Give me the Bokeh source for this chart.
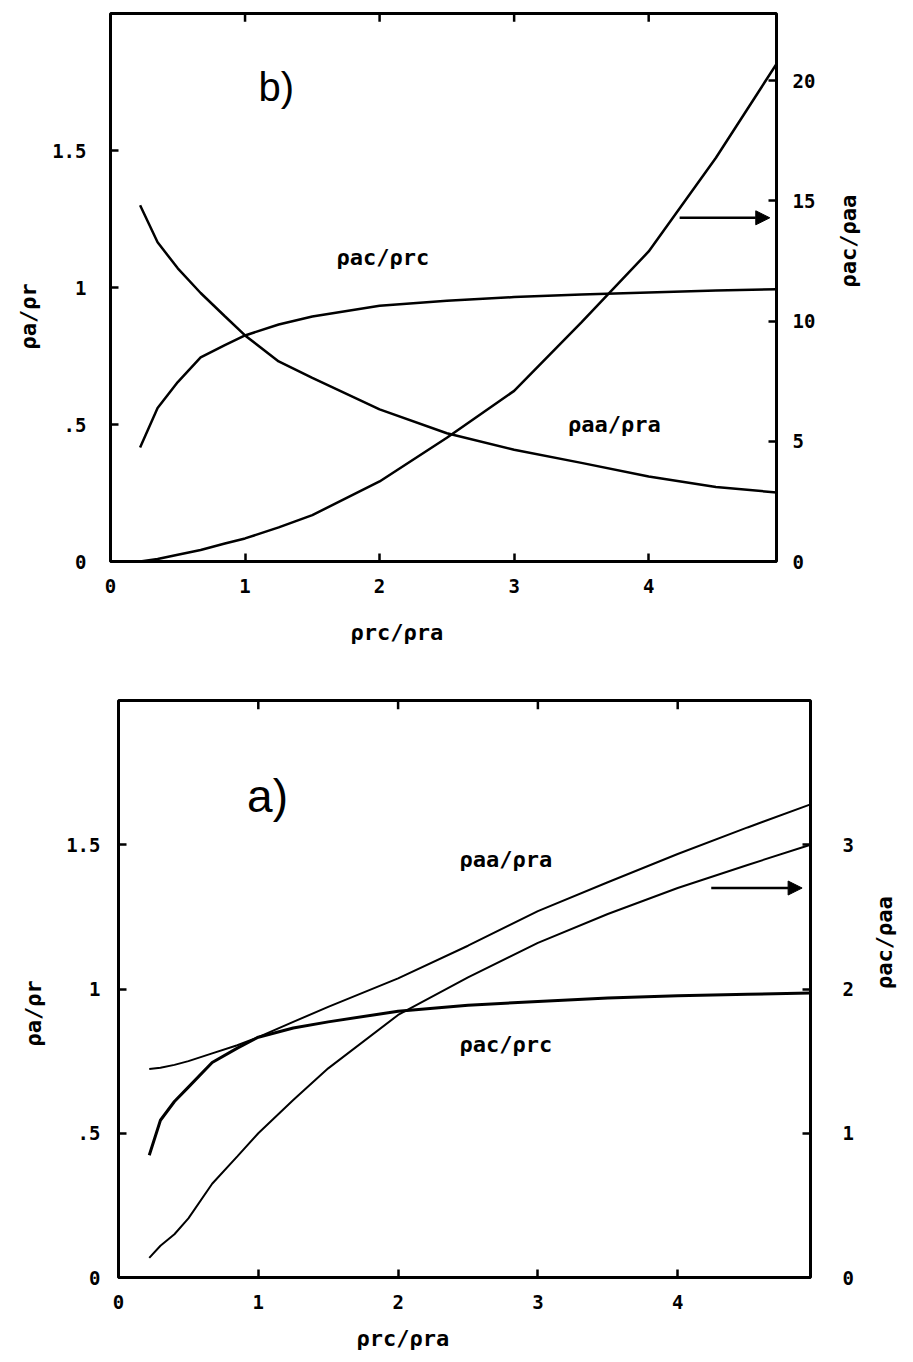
import math
from bokeh.plotting import figure
from bokeh.models import Range1d, LinearAxis, FixedTicker, Label, Arrow, NormalHead, Title
from bokeh.embed import file_html
from bokeh.resources import INLINE

# ---------------- data: panel b) ----------------
x_b = [0.22, 0.35, 0.5, 0.67, 0.85, 1.0, 1.25, 1.5, 2.0, 2.5, 3.0, 3.5, 4.0, 4.5, 4.95]
b_aa_ra = [1.30, 1.165, 1.07, 0.98, 0.895, 0.825, 0.73, 0.67, 0.555, 0.468, 0.408, 0.36, 0.31, 0.272, 0.252]
b_ac_rc = [0.416, 0.56, 0.655, 0.745, 0.79, 0.825, 0.865, 0.894, 0.933, 0.952, 0.965, 0.974, 0.982, 0.989, 0.994]
b_ac_aa = [0.0, 0.10, 0.28, 0.48, 0.75, 0.96, 1.42, 1.93, 3.33, 5.15, 7.1, 9.95, 12.9, 16.8, 20.7]

# ---------------- data: panel a) ----------------
x_a = [0.22, 0.3, 0.4, 0.5, 0.67, 0.85, 1.0, 1.25, 1.5, 2.0, 2.5, 3.0, 3.5, 4.0, 4.5, 4.95]
a_aa_ra = [0.723, 0.727, 0.737, 0.75, 0.777, 0.805, 0.833, 0.886, 0.938, 1.037, 1.15, 1.27, 1.37, 1.468, 1.56, 1.64]
a_ac_rc = [0.424, 0.545, 0.61, 0.66, 0.745, 0.795, 0.833, 0.865, 0.886, 0.923, 0.944, 0.957, 0.969, 0.977, 0.982, 0.986]
a_ac_aa = [0.136, 0.22, 0.30, 0.41, 0.65, 0.84, 1.0, 1.23, 1.45, 1.82, 2.08, 2.32, 2.52, 2.70, 2.86, 3.0]

# ---------------- ticks / ranges ----------------
X_MAX = 4.95
Y_MAX = 2.0
x_ticks = [0, 1, 2, 3, 4]
x_top_ticks = [1, 2, 3, 4]
left_ticks = [0, 0.5, 1, 1.5]
left_labels = ["0", ".5", "1", "1.5"]
right_ticks_b = [0, 5, 10, 15, 20]
right_max_b = 22.8
right_ticks_a = [0, 1, 2, 3]
right_max_a = 4.0

X_TITLE = "ρrc/ρra"
LEFT_TITLE = "ρa/ρr"
RIGHT_TITLE = "ρac/ρaa"

MONO = "DejaVu Sans Mono"
TICK_SIZE = "19px"
TITLE_SIZE = "22px"


def style_axis(ax, ticks, standoff, overrides=None):
    ax.ticker = FixedTicker(ticks=ticks, minor_ticks=[])
    ax.axis_line_color = None
    ax.major_tick_in = 8
    ax.major_tick_out = 0
    ax.major_tick_line_width = 2.5
    ax.major_tick_line_color = "black"
    ax.minor_tick_line_color = None
    ax.major_label_text_font = MONO
    ax.major_label_text_font_style = "bold"
    ax.major_label_text_font_size = TICK_SIZE
    ax.major_label_text_color = "black"
    ax.major_label_standoff = standoff
    ax.axis_label_text_font = MONO
    ax.axis_label_text_font_style = "bold"
    ax.axis_label_text_font_size = TITLE_SIZE
    ax.axis_label_text_color = "black"
    if overrides:
        ax.major_label_overrides = overrides


def side_title(p, text, side, offset, standoff):
    p.add_layout(Title(text=text, align="left", offset=offset, standoff=standoff,
                       text_font=MONO, text_font_style="bold",
                       text_font_size=TITLE_SIZE, text_color="black"), side)


def in_label(p, text, x, y, font=MONO, size=TITLE_SIZE, style="bold", y_range_name="default"):
    p.add_layout(Label(x=x, y=y, text=text, text_font=font, text_font_style=style,
                       text_font_size=size, text_baseline="middle", text_color="black",
                       y_range_name=y_range_name))


def make_panel(width, height, b_left, b_right, b_top, b_bottom, right_max, right_ticks,
               left_standoff, right_standoff, right_title_standoff):
    p = figure(width=width, height=height, output_backend="svg", toolbar_location=None,
               x_range=Range1d(0, X_MAX), y_range=Range1d(0, Y_MAX),
               min_border_left=b_left, min_border_right=b_right,
               min_border_top=b_top, min_border_bottom=b_bottom)
    p.background_fill_color = "white"
    p.border_fill_color = "white"
    p.outline_line_color = "black"
    p.outline_line_width = 3
    p.xgrid.visible = False
    p.ygrid.visible = False
    p.extra_y_ranges = {"r": Range1d(0, right_max)}

    style_axis(p.xaxis[0], x_ticks, 17)
    style_axis(p.yaxis[0], left_ticks, left_standoff, dict(zip(left_ticks, left_labels)))

    ry = LinearAxis(y_range_name="r")
    style_axis(ry, right_ticks, right_standoff)
    ry.axis_label = RIGHT_TITLE
    ry.axis_label_standoff = right_title_standoff
    ry.axis_label_text_align = "center"
    # right-hand axis title reads bottom-to-top, as in the original
    if "axis_label_orientation" in ry.properties():
        ry.axis_label_orientation = math.pi / 2
    p.add_layout(ry, "right")

    # inward tick marks on the top edge of the frame
    p.segment(x0=x_top_ticks, y0=[Y_MAX] * len(x_top_ticks),
              x1=x_top_ticks, y1=[Y_MAX - 0.03] * len(x_top_ticks),
              line_color="black", line_width=2.5)
    return p


# ---------------- panel b) (top) ----------------
pb = make_panel(900, 666, 110, 124, 13, 105, right_max_b, right_ticks_b, 24, 16, 30)
pb.line(x_b, b_aa_ra, line_color="black", line_width=2.5)
pb.line(x_b, b_ac_rc, line_color="black", line_width=2.5)
pb.line(x_b, b_ac_aa, line_color="black", line_width=2.5, y_range_name="r")
pb.add_layout(Arrow(end=NormalHead(size=14, fill_color="black", line_color="black"),
                    x_start=4.23, y_start=14.3, x_end=4.9, y_end=14.3,
                    y_range_name="r", line_width=2.5, line_color="black"))
in_label(pb, "b)", 1.1, 1.73, font="Liberation Sans", size="40px", style="normal")
in_label(pb, "ρac/ρrc", 1.68, 1.11)
in_label(pb, "ρaa/ρra", 3.4, 0.50)
side_title(pb, X_TITLE, "below", 240, 44)
side_title(pb, LEFT_TITLE, "left", 212, 18)

# ---------------- panel a) (bottom) ----------------
pa = make_panel(913, 696, 117, 103, 34, 85, right_max_a, right_ticks_a, 18, 32, 28)
pa.line(x_a, a_aa_ra, line_color="black", line_width=2)
pa.line(x_a, a_ac_rc, line_color="black", line_width=3)
pa.line(x_a, a_ac_aa, line_color="black", line_width=2, y_range_name="r")
pa.add_layout(Arrow(end=NormalHead(size=14, fill_color="black", line_color="black"),
                    x_start=4.24, y_start=2.70, x_end=4.89, y_end=2.70,
                    y_range_name="r", line_width=2.5, line_color="black"))
in_label(pa, "a)", 0.92, 1.67, font="Liberation Sans", size="46px", style="normal")
in_label(pa, "ρaa/ρra", 2.44, 1.45)
in_label(pa, "ρac/ρrc", 2.44, 0.806)
side_title(pa, X_TITLE, "below", 238, 24)
side_title(pa, LEFT_TITLE, "left", 231, 36)

open("out.html", "w").write(file_html([pb, pa], INLINE))
